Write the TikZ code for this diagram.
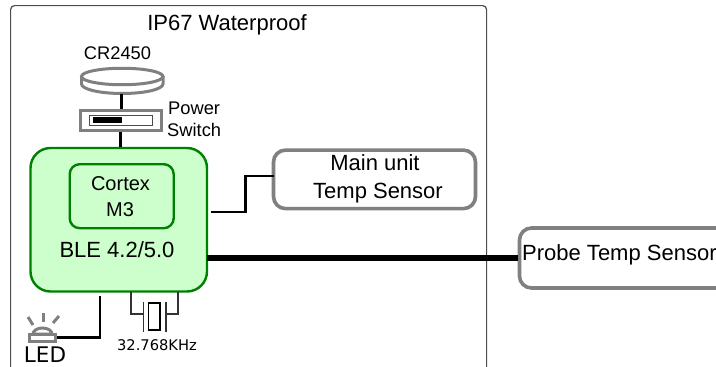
\documentclass[tikz,border=0pt]{standalone}
\usepackage{fontspec}
\setmainfont{Liberation Sans}
\newfontfamily\dejavu{DejaVu Sans}
\usepackage{xcolor}
\usetikzlibrary{shapes.geometric}
\definecolor{boxgray}{HTML}{808080}
\definecolor{mcugreen}{HTML}{008000}
\definecolor{mcufill}{HTML}{CCFFCC}
\tikzstyle{node:outer}=[draw=black!70,line width=1.2pt,rounded corners=4pt,minimum width=476pt,minimum height=380pt,anchor=north west,inner sep=0pt]
\tikzstyle{node:mcu}=[draw=mcugreen,fill=mcufill,line width=2.4pt,rounded corners=20pt,anchor=north west,inner sep=0pt]
\tikzstyle{node:core}=[draw=mcugreen,line width=2.4pt,rounded corners=10pt,anchor=north west,inner sep=0pt]
\tikzstyle{node:sensor}=[draw=boxgray,fill=white,line width=3.6pt,rounded corners=12pt,anchor=north west,inner sep=0pt]
\tikzstyle{node:label}=[inner sep=0pt,font=\fontsize{22}{22}\selectfont]
\tikzstyle{node:small}=[inner sep=0pt,font=\fontsize{18.3}{18}\selectfont]
\tikzstyle{draw:wire}=[black,line width=2.4pt]
\tikzstyle{draw:bus}=[black,line width=6.5pt]
\tikzstyle{draw:part}=[boxgray,line width=3pt]
\tikzstyle{draw:xtal}=[black!80,line width=1.4pt]

\begin{document}
\begin{tikzpicture}[x=1pt,y=-1pt]
        \clip (0,0) rectangle (716,367);
        \useasboundingbox (0,0) rectangle (716,367);

        % Enclosure
        \node[node:outer] (Case) at (10,5) {};
        \node[node:label] (CaseLabel) at (227,25) {IP67 Waterproof};

        % Coin cell
        \draw[draw:part,fill=white] (81.5,76) -- (81.5,84) arc[start angle=180,end angle=360,x radius=40.75pt,y radius=9.5pt] -- (163,76);
        \node[draw=boxgray,fill=white,ellipse,line width=3pt,minimum width=81.5pt,minimum height=16.5pt,inner sep=0pt] (Cell) at (122.2,76.5) {};
        \node[node:small] (CellLabel) at (117.5,53) {CR2450};
        \coordinate (CellOut) at (121.5,94);

        % Power switch
        \node[draw=boxgray,fill=white,line width=3pt,minimum width=81pt,minimum height=20pt,inner sep=0pt] (Switch) at (120.5,120) {};
        \node[draw=black!70,fill=white,line width=0.8pt,minimum width=63pt,minimum height=10pt,inner sep=0pt] (Slot) at (121,120) {};
        \node[fill=black,minimum width=29pt,minimum height=6pt,inner sep=0pt] (Slider) at (107.2,120.3) {};
        \node[node:small,anchor=west] (SwitchLabel) at (168,108) {Power};
        \node[node:small,anchor=west] (SwitchLabelB) at (167,130) {Switch};

        % MCU
        \node[node:mcu,minimum width=176.5pt,minimum height=143.5pt] (MCU) at (29.3,146.8) {};
        \node[node:core,minimum width=104pt,minimum height=64pt] (Core) at (68.5,163) {};
        \node[node:label,font=\fontsize{20}{20}\selectfont] (CoreLabelA) at (120.5,184) {Cortex};
        \node[node:label,font=\fontsize{20}{20}\selectfont] (CoreLabelB) at (120,210) {M3};
        \node[node:label] (MCULabel) at (117,250) {BLE 4.2/5.0};

        % Sensors
        \node[node:sensor,minimum width=202pt,minimum height=58.5pt] (Main) at (271.7,148.3) {};
        \node[node:label] (MainLabelA) at (375,163) {Main unit};
        \node[node:label] (MainLabelB) at (378,193) {Temp Sensor};
        \node[node:sensor,minimum width=225pt,minimum height=60pt] (Probe) at (517.7,226.2) {};
        \node[node:label,anchor=west] (ProbeLabel) at (522,255) {Probe Temp Sensor};

        % Crystal
        \node[draw=black,line width=1.8pt,minimum width=11.5pt,minimum height=27pt,inner sep=0pt] (Xtal) at (154.3,316.5) {};
        \node[inner sep=0pt,font=\dejavu\fontsize{14.7}{14.7}\selectfont] (XtalLabel) at (157,345) {32.768KHz};
        \coordinate (XtalA) at (131,292);
        \coordinate (XtalB) at (143.5,314);
        \coordinate (XtalC) at (166,314);
        \coordinate (XtalD) at (178,292);
        \coordinate (PlateA) at (143.5,302);
        \coordinate (PlateAEnd) at (143.5,332);
        \coordinate (PlateB) at (166,302);
        \coordinate (PlateBEnd) at (166,332);

        % LED
        \node[draw=boxgray,fill=white,line width=3pt,minimum width=26pt,minimum height=7pt,inner sep=0pt] (LED) at (42.5,337.5) {};
        \node[inner sep=0pt,font=\dejavu\fontsize{21.5}{21.5}\selectfont] (LEDLabel) at (45,355) {LED};
        \draw[draw:part,fill=white] (33,334) arc[start angle=180,end angle=0,x radius=9.5pt,y radius=6pt] -- cycle;
        \draw[draw:part] (43,313) -- (43,322);
        \draw[draw:part] (28,317) -- (33,325);
        \draw[draw:part] (59,316) -- (53,323);

        % Connections
        \draw[draw:wire] (CellOut) -- (CellOut |- Switch.north);
        \draw[draw:wire] (Switch.south) -- (MCU.north -| Switch.south);
        \coordinate (MainIn) at (211,212);
        \coordinate (MainBend) at (245.5,212);
        \coordinate (MainPort) at (273.5,176);
        \draw[draw:wire] (MainIn) -- (MainBend) |- (MainPort);
        \coordinate (BusStart) at (207,258);
        \draw[draw:bus] (BusStart) -- (BusStart -| Probe.west);
        \coordinate (LEDWire) at (100,296);
        \draw[draw:wire] (LEDWire) -- (LEDWire |- LED.east) -- (LED.east);
        \draw[draw:xtal] (XtalA) |- (XtalB);
        \draw[draw:xtal] (XtalD) |- (XtalC);
        \draw[draw:xtal] (PlateA) -- (PlateAEnd);
        \draw[draw:xtal] (PlateB) -- (PlateBEnd);

    \end{tikzpicture}
\end{document}
